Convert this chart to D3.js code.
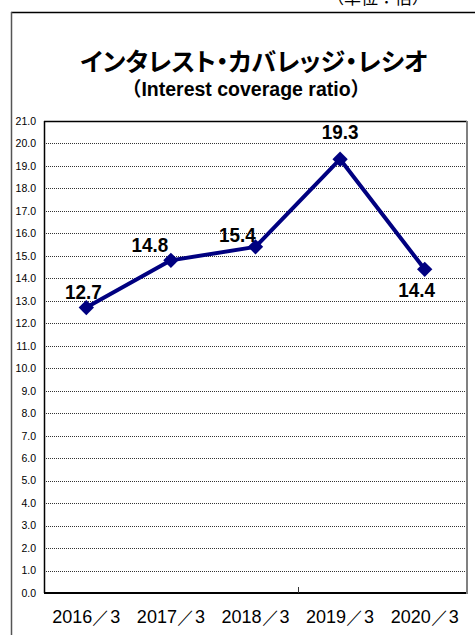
<!DOCTYPE html>
<html><head><meta charset="utf-8">
<script src="https://cdn.jsdelivr.net/npm/d3@7"></script>
<style>
html,body{margin:0;padding:0;background:#fff;}
svg{display:block;}
</style></head>
<body>
<svg id="c" width="475" height="635"></svg>
<script>
const categories = ["2016/3","2017/3","2018/3","2019/3","2020/3"];
const values = [12.7, 14.8, 15.4, 19.3, 14.4];
const yTicks = d3.range(0, 21.01, 1);
const labelPos = ["p0","p1","p2","p3","p4"];
const titleText = "インタレスト・カバレッジ・レシオ";
const subtitleText = "（Interest coverage ratio）";
const unitText = "（単位：倍）";

const svg = d3.select("#c");
const m = {left:44, right:467, top:121, bottom:593};

// outer frame
svg.append("text").attr("x", 378).attr("y", 4).attr("text-anchor","middle")
  .attr("font-family","Noto Sans CJK JP").attr("font-size",17).attr("fill","#000").text(unitText);
svg.append("line").attr("x1",11).attr("x2",475).attr("y1",12.5).attr("y2",12.5).attr("stroke","#000").attr("stroke-width",1.5);
svg.append("line").attr("x1",11.5).attr("x2",11.5).attr("y1",12).attr("y2",635).attr("stroke","#555").attr("stroke-width",1.5);

svg.append("text").attr("x",254).attr("y",71).attr("text-anchor","middle")
  .attr("font-family","Noto Sans CJK JP").attr("font-weight","bold").attr("font-size",25)
  .style("font-feature-settings","'palt'").text(titleText);
svg.append("text").attr("x",246).attr("y",96).attr("text-anchor","middle")
  .attr("font-family","Liberation Sans, Noto Sans CJK JP").attr("font-weight","bold").attr("font-size",19.5).text(subtitleText);

const x = d3.scaleBand().domain(categories).range([m.left, m.right]).padding(0);
const y = d3.scaleLinear().domain([0,21]).range([m.bottom, m.top]);

// gridlines
svg.append("g").selectAll("line").data(yTicks.filter(d=>d>0 && d<21)).join("line")
  .attr("x1",m.left).attr("x2",m.right)
  .attr("y1",d=>Math.round(y(d))+0.5).attr("y2",d=>Math.round(y(d))+0.5)
  .attr("stroke","#333").attr("stroke-width",1).attr("stroke-dasharray","1,1");

// y axis labels
const yAxis = d3.axisLeft(y).tickValues(yTicks).tickFormat(d3.format(".1f")).tickSize(0).tickPadding(8);
const ga = svg.append("g").attr("transform",`translate(${m.left},0)`).call(yAxis);
ga.select(".domain").remove();
ga.selectAll("text").attr("font-family","Liberation Sans").attr("font-size",10.5).attr("fill","#000");

// plot frame
svg.append("line").attr("x1",m.left).attr("x2",m.right).attr("y1",m.top+0.5).attr("y2",m.top+0.5).attr("stroke","#000").attr("stroke-width",1.5);
svg.append("line").attr("x1",m.left).attr("x2",m.right).attr("y1",m.bottom).attr("y2",m.bottom).attr("stroke","#000").attr("stroke-width",2);
svg.append("line").attr("x1",m.left+0.5).attr("x2",m.left+0.5).attr("y1",m.top).attr("y2",m.bottom).attr("stroke","#000").attr("stroke-width",1.5);
svg.append("line").attr("x1",m.right).attr("x2",m.right).attr("y1",m.top).attr("y2",m.bottom+1).attr("stroke","#808080").attr("stroke-width",2);

// x axis
const xAxis = d3.axisBottom(x).tickSize(0).tickPadding(17);
const gx = svg.append("g").attr("transform",`translate(0,${m.bottom})`).call(xAxis);
gx.select(".domain").remove();
gx.selectAll("text").attr("font-family","Liberation Sans").attr("font-size",18).attr("fill","#000")
  .text(d=>d.replace("/","／"));
// single boundary tick
const bx = Math.round(x(categories[3]))+0.5;
svg.append("line").attr("x1",bx).attr("x2",bx).attr("y1",m.bottom-6).attr("y2",m.bottom).attr("stroke","#333").attr("stroke-width",1);

// line
const cx = d => x(d) + x.bandwidth()/2;
const pts = categories.map((c,i)=>[cx(c), y(values[i])]);
svg.append("path").attr("d", d3.line()(pts)).attr("fill","none").attr("stroke","#000080").attr("stroke-width",4).attr("stroke-linejoin","round");
svg.append("g").selectAll("path").data(pts).join("path")
  .attr("d", d3.symbol().type(d3.symbolDiamond2).size(150)())
  .attr("transform", d=>`translate(${d[0]},${d[1]})`)
  .attr("fill","#000080");

// labels
const off = {p0:[-3,-9], p1:[-21,-8], p2:[-18,-5], p3:[0,-20], p4:[-8,28]};
svg.append("g").selectAll("text").data(pts).join("text")
  .attr("transform",(d,i)=>`translate(${d[0]+off[labelPos[i]][0]},${d[1]+off[labelPos[i]][1]}) scale(0.9,1)`)
  .attr("text-anchor","middle")
  .attr("font-family","Liberation Sans").attr("font-weight","bold").attr("font-size",21).attr("fill","#000")
  .text((d,i)=>values[i].toFixed(1));
</script>
</body></html>
